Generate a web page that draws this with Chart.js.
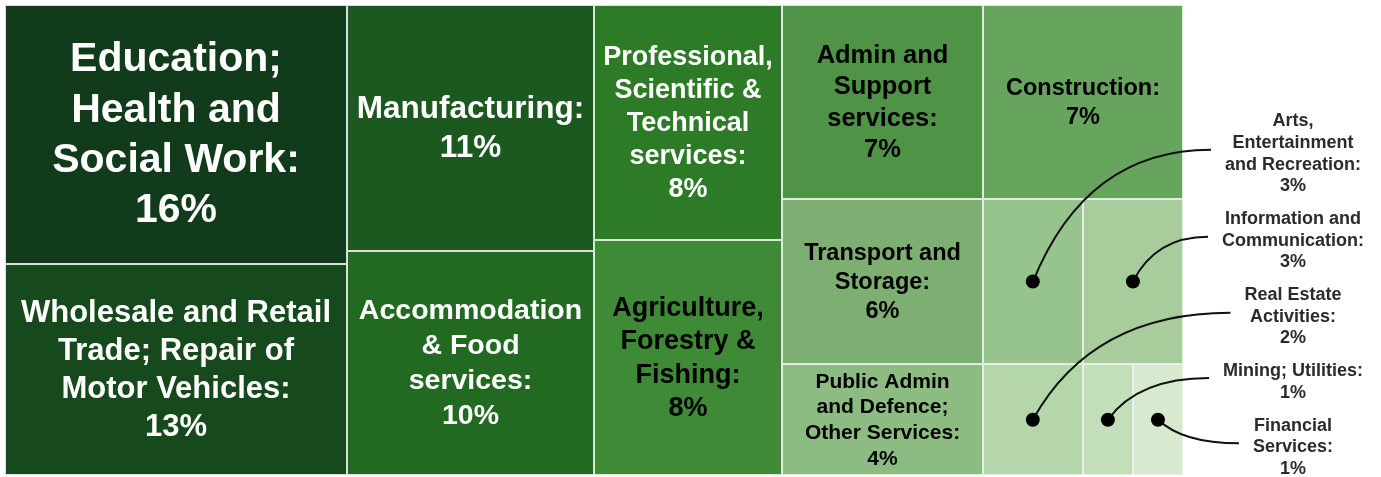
<!DOCTYPE html>
<html>
<head>
<meta charset="utf-8">
<script src="https://cdn.jsdelivr.net/npm/chart.js@4.4.1/dist/chart.umd.min.js"></script>
<style>
  html, body { margin: 0; padding: 0; background: #fff; }
</style>
</head>
<body>
<canvas id="treemap" width="1381" height="477"></canvas>
<script>
var categories = [
    "Education; Health and Social Work",
    "Wholesale and Retail Trade; Repair of Motor Vehicles",
    "Manufacturing",
    "Accommodation & Food services",
    "Professional, Scientific & Technical services",
    "Agriculture, Forestry & Fishing",
    "Admin and Support services",
    "Construction",
    "Transport and Storage",
    "Arts, Entertainment and Recreation",
    "Information and Communication",
    "Public Admin and Defence; Other Services",
    "Real Estate Activities",
    "Mining; Utilities",
    "Financial Services",
];
var shares = [16, 13, 11, 10, 8, 8, 7, 7, 6, 3, 3, 4, 2, 1, 1];

// nesting of the cells: columns first, then rows inside the last column
var groups = [[0, 1], [2, 3], [4, 5], [[6, 7], [8, 9, 10], [11, 12, 13, 14]]];

var palette = [
    "#113b1a", "#164a1d", "#1c5920", "#226a22", "#2d7b27",
    "#3e8a37", "#4f9446", "#67a55e", "#7caf71", "#97c38c",
    "#a8cc9c", "#8cbc81", "#b4d6aa", "#c3dfba", "#d7e9cf",
];
var labelSizes = [41, 31, 31.5, 28.5, 27, 27, 25.5, 23.5, 23.5, 18, 18, 21, 18, 18, 18];

// cells smaller than this get an outside label with a callout line
var calloutBelow = 4;
var fontFamily = '"Liberation Sans", Arial, sans-serif';

function total(node) {
    return Array.isArray(node)
        ? node.reduce((s, n) => s + total(n), 0)
        : shares[node];
}

// slice-and-dice over the nesting, in data units (0..100 on both axes)
function layout(node, x0, y0, x1, y1, horizontal, out) {
    if (!Array.isArray(node)) {
        out[node] = { x0: x0, y0: y0, x1: x1, y1: y1 };
        return;
    }
    var sum = total(node);
    var pos = horizontal ? x0 : y0;
    node.forEach((child) => {
        var span = ((horizontal ? x1 - x0 : y1 - y0) * total(child)) / sum;
        if (horizontal) layout(child, pos, y0, pos + span, y1, false, out);
        else layout(child, x0, pos, x1, pos + span, true, out);
        pos += span;
    });
}

var cells = [];
layout(groups, 0, 0, 100, 100, true, cells);

var calloutIdx = shares
    .map((v, i) => i)
    .filter((i) => shares[i] < calloutBelow);

function wrap(ctx, text, maxWidth) {
    var words = text.split(" ");
    var lines = [];
    var line = "";
    words.forEach((w) => {
        var test = line ? line + " " + w : w;
        if (line && ctx.measureText(test).width > maxWidth) {
            lines.push(line);
            line = w;
        } else {
            line = test;
        }
    });
    if (line) lines.push(line);
    return lines;
}

function textColor(hex) {
    var c = [1, 3, 5].map((k) => parseInt(hex.substr(k, 2), 16) / 255);
    var lin = c.map((v) => (v <= 0.03928 ? v / 12.92 : Math.pow((v + 0.055) / 1.055, 2.4)));
    var L = 0.2126 * lin[0] + 0.7152 * lin[1] + 0.0722 * lin[2];
    return 1.05 / (L + 0.05) > (L + 0.05) / 0.05 ? "#ffffff" : "#000000";
}

function cellBox(chart, c) {
    var xs = chart.scales.x, ys = chart.scales.y;
    var left = Math.round(xs.getPixelForValue(c.x0));
    var right = Math.round(xs.getPixelForValue(c.x1));
    var top = Math.round(ys.getPixelForValue(c.y0));
    var bottom = Math.round(ys.getPixelForValue(c.y1));
    return { left: left, top: top, w: right - left, h: bottom - top };
}

// outside labels, stacked up from the bottom of the plot
function outsideLabels(chart) {
    var ctx = chart.ctx;
    var area = chart.chartArea;
    var size = 18, lh = 21.7, gap = 11;
    ctx.font = "bold " + size + "px " + fontFamily;
    var blocks = calloutIdx.map((i) => {
        var lines = wrap(ctx, categories[i] + ":", 150).concat([shares[i] + "%"]);
        var widest = Math.max.apply(null, lines.map((l) => ctx.measureText(l).width));
        return { i: i, lines: lines, widest: widest };
    });
    var cx = area.right + 110;
    var y = area.bottom - 6;
    for (var b = blocks.length - 1; b >= 0; b--) {
        var blk = blocks[b];
        blk.last = y;
        blk.first = y - (blk.lines.length - 1) * lh;
        y = blk.first - lh - gap;
    }
    blocks.forEach((blk) => {
        blk.cx = cx;
        blk.lh = lh;
        blk.size = size;
    });
    return blocks;
}

var treemapPlugin = {
    id: "treemapCells",
    beforeDatasetsDraw(chart) {
        var ctx = chart.ctx;
        ctx.save();
        cells.forEach((c, i) => {
            var r = cellBox(chart, c);
            ctx.fillStyle = palette[i];
            ctx.fillRect(r.left, r.top, r.w, r.h);
            ctx.strokeStyle = "rgba(236, 242, 236, 0.9)";
            ctx.lineWidth = 1;
            ctx.strokeRect(r.left + 0.5, r.top + 0.5, r.w - 1, r.h - 1);
        });

        // labels inside the bigger cells
        ctx.textAlign = "center";
        ctx.textBaseline = "middle";
        cells.forEach((c, i) => {
            if (shares[i] < calloutBelow) return;
            var r = cellBox(chart, c);
            var size = labelSizes[i];
            var lh = size * 1.23;
            ctx.font = "bold " + size + "px " + fontFamily;
            var lines = wrap(ctx, categories[i] + ":", r.w - 26).concat([shares[i] + "%"]);
            var cx = r.left + r.w / 2;
            var cy = r.top + r.h / 2 + 1;
            ctx.fillStyle = textColor(palette[i]);
            lines.forEach((l, k) => {
                ctx.fillText(l, cx, cy + (k - (lines.length - 1) / 2) * lh);
            });
        });

        // callout lines from the small cells to their labels
        var blocks = outsideLabels(chart);
        ctx.strokeStyle = "#111111";
        ctx.lineWidth = 2;
        blocks.forEach((blk) => {
            var r = cellBox(chart, cells[blk.i]);
            var dx = r.left + r.w / 2, dy = r.top + r.h / 2;
            var ex = blk.cx - blk.widest / 2 - 14;
            var ey = (blk.first + blk.last) / 2 - 4;
            ctx.beginPath();
            ctx.moveTo(dx, dy);
            ctx.quadraticCurveTo(dx + 0.3 * (ex - dx), ey, ex, ey);
            ctx.stroke();
        });
        ctx.restore();
    },
    afterDatasetsDraw(chart) {
        var ctx = chart.ctx;
        var blocks = outsideLabels(chart);
        ctx.save();
        ctx.textAlign = "center";
        ctx.textBaseline = "middle";
        ctx.fillStyle = "#2b2b2b";
        blocks.forEach((blk) => {
            ctx.font = "bold " + blk.size + "px " + fontFamily;
            blk.lines.forEach((l, k) => {
                ctx.fillText(l, blk.cx, blk.first + k * blk.lh);
            });
        });
        ctx.restore();
    },
};

var canvas = document.getElementById("treemap");

new Chart(canvas, {
    type: "scatter",
    data: {
        datasets: [
            {
                label: "Callouts",
                data: calloutIdx.map((i) => ({
                    x: (cells[i].x0 + cells[i].x1) / 2,
                    y: (cells[i].y0 + cells[i].y1) / 2,
                })),
                pointRadius: 7,
                pointHoverRadius: 7,
                pointBackgroundColor: "#000000",
                pointBorderWidth: 0,
            },
        ],
    },
    options: {
        responsive: false,
        animation: false,
        layout: {
            autoPadding: false,
            padding: { left: 5, top: 5, right: 198, bottom: 2 },
        },
        scales: {
            x: { type: "linear", min: 0, max: 100, display: false },
            y: { type: "linear", min: 0, max: 100, reverse: true, display: false },
        },
        plugins: {
            legend: { display: false },
            tooltip: { enabled: false },
        },
    },
    plugins: [treemapPlugin],
});
</script>
</body>
</html>
